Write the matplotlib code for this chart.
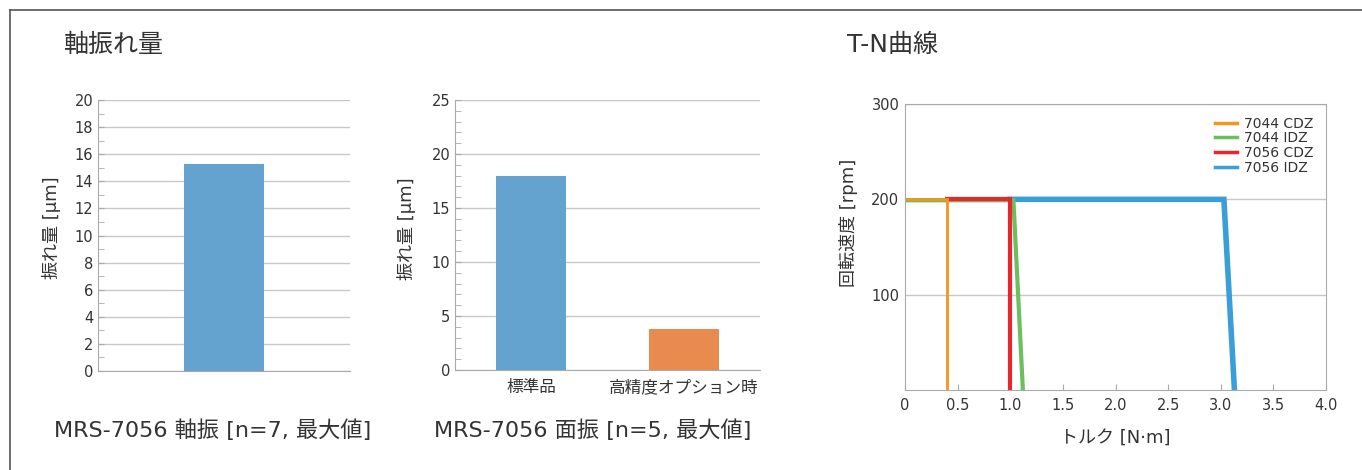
import matplotlib
matplotlib.use("Agg")
from matplotlib import pyplot as plt
from matplotlib.lines import Line2D
from matplotlib.ticker import MultipleLocator

plt.rcParams['font.family'] = ['DejaVu Sans', 'Noto Sans CJK JP']

# data
runout_cat = ['']
runout_val = [15.3]

face_cat = ['標準品', '高精度オプション時']
face_val = [18.0, 3.8]

tn_series = {
    '7044 CDZ': ([0, 0.40, 0.40], [200.5, 200.5, 0]),
    '7044 IDZ': ([0, 1.03, 1.12], [199, 199, 0]),
    '7056 CDZ': ([0.40, 1.0, 1.0], [200, 200, 0]),
    '7056 IDZ': ([1.0, 3.03, 3.13], [200, 200, 0]),
}
tn_colors = {'7044 CDZ': '#F7941D', '7044 IDZ': '#6CBF5F', '7056 CDZ': '#E8262B', '7056 IDZ': '#3A9FD9'}
tn_widths = {'7044 CDZ': 2.0, '7044 IDZ': 3.0, '7056 CDZ': 3.0, '7056 IDZ': 4.0}
tn_xticks = [0, 0.5, 1.0, 1.5, 2.0, 2.5, 3.0, 3.5, 4.0]
tn_xlabels = ['0', '0.5', '1.0', '1.5', '2.0', '2.5', '3.0', '3.5', '4.0']

txt = '#333333'
grid = '#c8c8c8'
spine = '#aaaaaa'

fig = plt.figure(figsize=(13.62, 4.70), dpi=100)

# frame lines (top and left only)
fig.add_artist(Line2D([10 / 1362, 1], [1 - 10 / 470, 1 - 10 / 470], color='#555555', lw=1.2))
fig.add_artist(Line2D([10 / 1362, 10 / 1362], [0, 1 - 10 / 470], color='#555555', lw=1.2))

fig.text(63 / 1362, 1 - 45 / 470, '軸振れ量', fontsize=18, color=txt, va='center', ha='left')
fig.text(847 / 1362, 1 - 45 / 470, 'T-N曲線', fontsize=18, color=txt, va='center', ha='left')


def style_bar_axes(ax):
    for s in ['top', 'right']:
        ax.spines[s].set_visible(False)
    ax.spines['left'].set_color(spine)
    ax.spines['bottom'].set_color(spine)
    ax.tick_params(axis='y', which='both', direction='in', color=spine, labelsize=10.5, labelcolor=txt, length=4)
    ax.tick_params(axis='x', length=0, labelsize=12, labelcolor=txt)
    ax.yaxis.grid(True, which='major', color=grid, lw=1)
    ax.set_axisbelow(True)


# chart 1
ax1 = fig.add_axes([98 / 1362, 1 - 371 / 470, 252 / 1362, 271 / 470])
ax1.bar(range(len(runout_val)), runout_val, width=0.32, color='#64A2CF')
ax1.set_xlim(-0.5, 0.5)
ax1.set_ylim(0, 20)
ax1.yaxis.set_major_locator(MultipleLocator(2))
ax1.yaxis.set_minor_locator(MultipleLocator(1))
ax1.set_xticks([])
style_bar_axes(ax1)
ax1.set_ylabel('振れ量 [μm]', fontsize=13, color=txt)
ax1.yaxis.set_label_coords(-0.146, 0.53)
fig.text(213 / 1362, 1 - 430 / 470, 'MRS-7056 軸振 [n=7, 最大値]', fontsize=16, color=txt, ha='center', va='center')

# chart 2
ax2 = fig.add_axes([455 / 1362, 1 - 370 / 470, 305 / 1362, 270 / 470])
ax2.bar(range(len(face_val)), face_val, width=0.46, color=['#64A2CF', '#E98B4F'])
ax2.set_xlim(-0.5, 1.5)
ax2.set_ylim(0, 25)
ax2.yaxis.set_major_locator(MultipleLocator(5))
ax2.yaxis.set_minor_locator(MultipleLocator(1))
ax2.set_xticks(range(len(face_cat)))
ax2.set_xticklabels(face_cat)
style_bar_axes(ax2)
ax2.tick_params(axis='x', pad=6)
ax2.set_ylabel('振れ量 [μm]', fontsize=13, color=txt)
ax2.yaxis.set_label_coords(-0.127, 0.525)
fig.text(593 / 1362, 1 - 430 / 470, 'MRS-7056 面振 [n=5, 最大値]', fontsize=16, color=txt, ha='center', va='center')

# chart 3
ax3 = fig.add_axes([905 / 1362, 1 - 390 / 470, 421 / 1362, 286 / 470])
for name in ['7056 IDZ', '7044 IDZ', '7056 CDZ', '7044 CDZ']:
    xs, ys = tn_series[name]
    ax3.plot(xs, ys, color=tn_colors[name], lw=tn_widths[name], solid_joinstyle='miter')
ax3.set_xlim(0, 4)
ax3.set_ylim(0, 300)
ax3.set_xticks(tn_xticks)
ax3.set_xticklabels(tn_xlabels)
ax3.set_yticks([100, 200, 300])
ax3.yaxis.grid(True, color=grid, lw=1)
ax3.set_axisbelow(True)
for s in ax3.spines.values():
    s.set_color(spine)
ax3.tick_params(axis='x', direction='in', color=spine, length=4, labelsize=10.5, labelcolor=txt, pad=6)
ax3.tick_params(axis='y', length=0, labelsize=10.5, labelcolor=txt, pad=4)
ax3.set_xlabel('トルク [N·m]', fontsize=13, color=txt, labelpad=12)
ax3.set_ylabel('回転速度 [rpm]', fontsize=13, color=txt)
ax3.yaxis.set_label_coords(-0.111, 0.584)
handles = [Line2D([], [], color=tn_colors[n], lw=2.5) for n in tn_series]
leg = ax3.legend(handles, list(tn_series.keys()), loc='upper right', frameon=False, fontsize=10,
                 handlelength=1.6, handletextpad=0.5, labelspacing=0.05, borderaxespad=0.5)
for t in leg.get_texts():
    t.set_color(txt)

fig.savefig('out.png', dpi=100, facecolor='white')
